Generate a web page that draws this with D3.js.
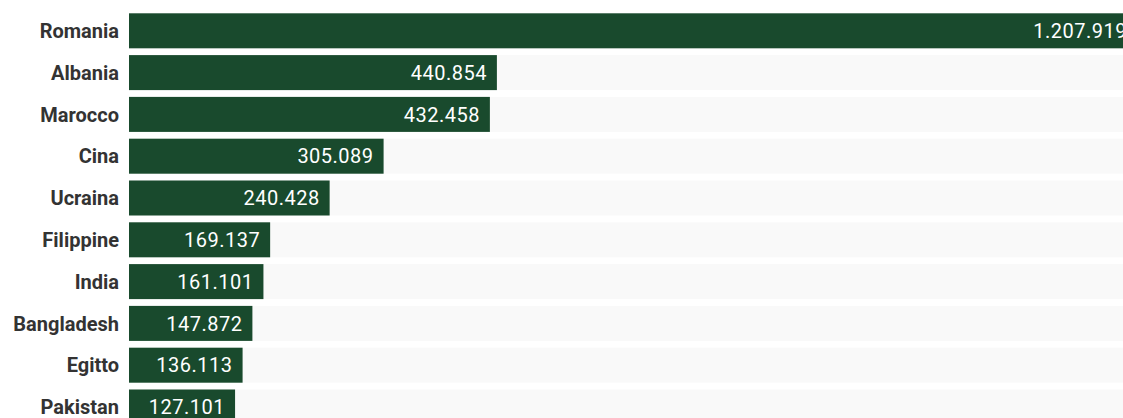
<!DOCTYPE html>
<html>
<head>
<meta charset="utf-8">
<script src="https://cdn.jsdelivr.net/npm/d3@7"></script>
<style>
  html, body { margin: 0; padding: 0; background: #ffffff; overflow: hidden; }
  svg { display: block; }
</style>
</head>
<body>
<svg id="chart" width="1123" height="418"></svg>
<script>
// Paesi di cittadinanza e numero di residenti stranieri
const countries = ["Romania", "Albania", "Marocco", "Cina", "Ucraina", "Filippine", "India", "Bangladesh", "Egitto", "Pakistan"];
const residents = [1207919, 440854, 432458, 305089, 240428, 169137, 161101, 147872, 136113, 127101];

const width = 1123, height = 418;
const barLeft = 129;
const barRight = 1137;
const step = 41.8, barH = 35;
const top0 = 13.3 - (step - barH) / 2;

const svg = d3.select("#chart");

const x = d3.scaleLinear()
  .domain([0, d3.max(residents)])
  .range([barLeft, barRight]);

const y = d3.scaleBand()
  .domain(countries)
  .range([top0, top0 + step * countries.length])
  .paddingInner((step - barH) / step)
  .paddingOuter((step - barH) / 2 / step);

const it = d3.formatLocale({ decimal: ",", thousands: ".", grouping: [3], currency: ["€", ""] });
const fmt = it.format(",d");

const rows = svg.append("g")
  .selectAll("g")
  .data(countries.map((c, i) => ({ country: c, value: residents[i] })))
  .join("g");

// light track behind each bar
rows.append("rect")
  .attr("x", barLeft)
  .attr("y", d => y(d.country))
  .attr("width", width - barLeft)
  .attr("height", y.bandwidth())
  .attr("fill", "#f9f9f9");

rows.append("rect")
  .attr("x", x(0))
  .attr("y", d => y(d.country))
  .attr("width", d => x(d.value) - x(0))
  .attr("height", y.bandwidth())
  .attr("fill", "#194a2d");

rows.append("text")
  .attr("x", d => x(d.value) - 10)
  .attr("y", d => y(d.country) + y.bandwidth() / 2)
  .attr("dy", "0.355em")
  .attr("text-anchor", "end")
  .attr("fill", "#ffffff")
  .style("font-family", "Roboto, sans-serif")
  .style("font-size", "20px")
  .style("letter-spacing", "0.5px")
  .text(d => fmt(d.value));

// country labels on the left
const yAxis = d3.axisLeft(y).tickSize(0).tickPadding(10);
const axisG = svg.append("g")
  .attr("transform", `translate(${barLeft},0)`)
  .call(yAxis);
axisG.select(".domain").remove();
axisG.selectAll("text")
  .attr("fill", "#333333")
  .attr("dy", "0.355em")
  .style("font-family", "Roboto, sans-serif")
  .style("font-weight", "700")
  .style("font-size", "20px");
</script>
</body>
</html>
